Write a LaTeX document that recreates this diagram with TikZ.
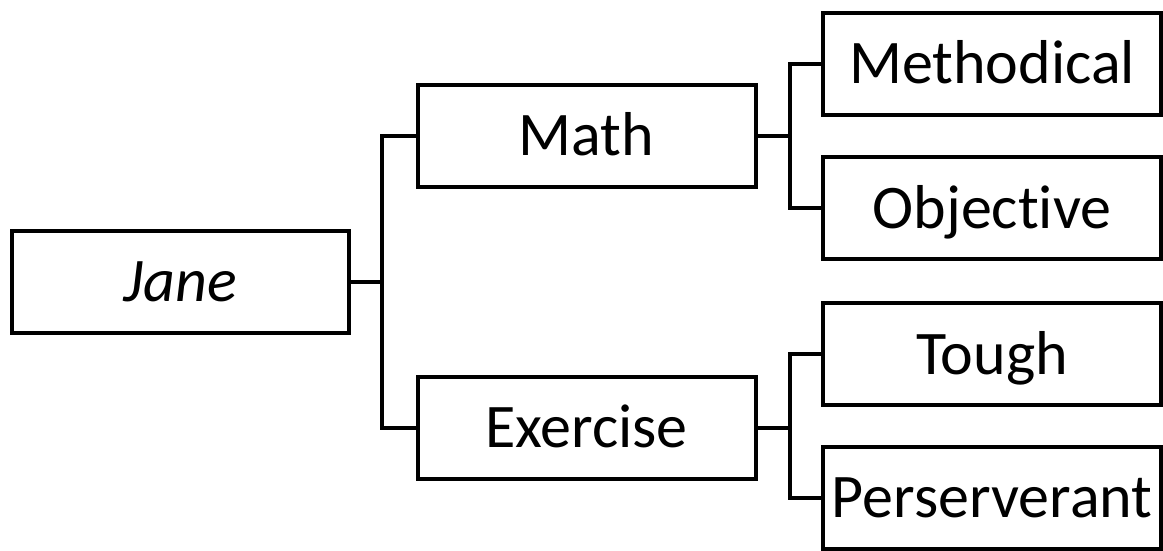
\documentclass[tikz,border=0pt]{standalone}
\usepackage{fontspec}
\setmainfont[Ligatures={NoCommon,NoContextual}]{Carlito}
\begin{document}
\begin{tikzpicture}[x=1pt,y=-1pt,
  box/.style={draw=black, line width=4pt, rectangle, inner sep=0pt,
    minimum width=338pt, minimum height=102pt,
    font=\fontsize{62}{70}\selectfont, text height=40pt, text depth=0pt},
  link/.style={draw=black, line width=4pt}]
\useasboundingbox (0,0) rectangle (1163,550);

% root
\node[box, minimum width=337pt] (jane) at (180.5,281.5) {\itshape Jane};

% first level
\node[box] (math) at (586.5,135.5) {Math};
\node[box] (exer) at (586.5,427.5) {Exercise};

% second level
\node[box] (meth) at (992,63.5) {Methodical};
\node[box] (obj)  at (992,208) {Objec\kern0pt tive};
\node[box] (tough) at (992,354) {Tough};
\node[box] (pers) at (992,497.5) {Perserverant};

% bracket connectors
\coordinate (j1) at (382,0);
\coordinate (m1) at (790,0);
\draw[link] (jane.east) -- (jane.east -| j1);
\draw[link] (math.west) -| (j1 |- jane.east) |- (exer.west);
\draw[link] (math.east) -- (math.east -| m1);
\draw[link] (meth.west) -| (m1 |- math.east) |- (obj.west);
\draw[link] (exer.east) -- (exer.east -| m1);
\draw[link] (tough.west) -| (m1 |- exer.east) |- (pers.west);
\end{tikzpicture}
\end{document}
